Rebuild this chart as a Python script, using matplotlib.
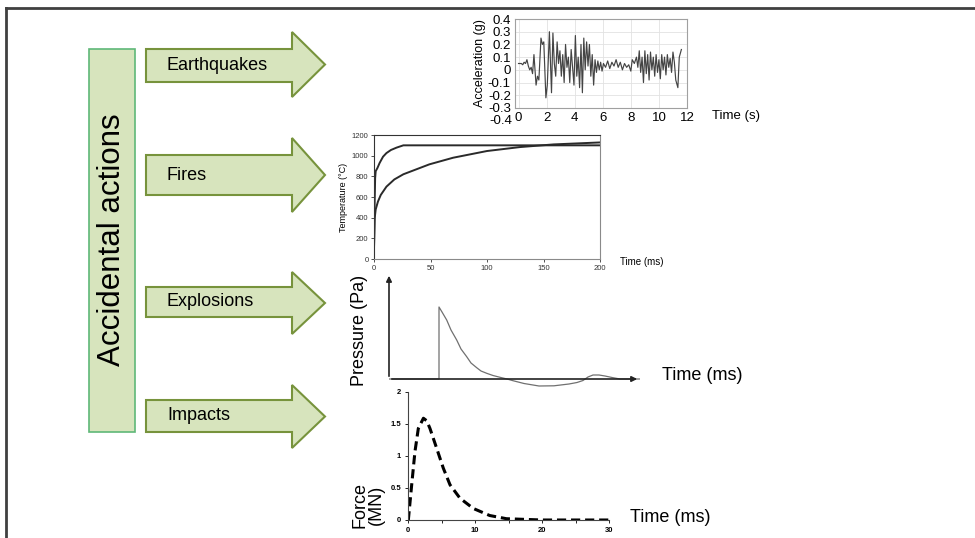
import matplotlib
matplotlib.use('Agg')
import matplotlib.pyplot as plt
from matplotlib.patches import Polygon, Rectangle

plt.rcParams['font.family'] = ['Liberation Sans', 'DejaVu Sans']

W, H = 975, 538

# earthquake record (time in s, acceleration in g)
eq_time = [0.0, 0.2, 0.3, 0.4, 0.5, 0.6, 0.7, 0.8, 0.9, 1.0, 1.1, 1.25, 1.35, 1.45,
           1.6, 1.7, 1.8, 1.95, 2.05, 2.2, 2.35, 2.45, 2.55, 2.65, 2.75, 2.85, 2.95,
           3.05, 3.15, 3.25, 3.35, 3.45, 3.55, 3.65, 3.75, 3.85, 3.95, 4.05, 4.15,
           4.25, 4.35, 4.45, 4.55, 4.65, 4.75, 4.85, 4.95, 5.05, 5.15, 5.25, 5.35,
           5.45, 5.55, 5.65, 5.75, 5.85, 5.95, 6.05, 6.2, 6.35, 6.5, 6.65, 6.8, 6.95,
           7.1, 7.25, 7.4, 7.55, 7.7, 7.85, 8.0, 8.1, 8.25, 8.4, 8.5, 8.6, 8.7, 8.8,
           8.9, 9.0, 9.1, 9.2, 9.3, 9.4, 9.5, 9.6, 9.7, 9.8, 9.9, 10.0, 10.1, 10.2,
           10.3, 10.4, 10.5, 10.6, 10.7, 10.8, 10.9, 11.0, 11.1, 11.2, 11.35, 11.45, 11.6]
eq_acc = [0.05, 0.05, 0.04, 0.06, 0.05, 0.08, 0.03, 0.00, 0.02, -0.03, 0.12, -0.12, -0.05, -0.08,
          0.25, 0.20, 0.22, -0.22, -0.12, 0.30, -0.18, 0.29, 0.05, -0.05, 0.22, 0.05, 0.15,
          -0.05, 0.12, -0.10, 0.20, 0.02, 0.10, -0.10, 0.16, 0.02, -0.12, 0.27, -0.05,
          0.10, -0.14, 0.20, -0.18, 0.25, 0.00, 0.22, 0.03, 0.20, -0.05, 0.12, -0.12,
          0.08, -0.02, 0.07, 0.00, 0.06, -0.01, 0.05, 0.02, 0.07, 0.01, 0.06, 0.03, 0.08,
          0.02, 0.06, 0.00, 0.05, 0.02, 0.04, -0.01, 0.08, 0.05, 0.10, 0.02, 0.15, -0.02, 0.10,
          -0.10, 0.15, -0.03, 0.12, -0.08, 0.14, 0.00, 0.10, -0.05, 0.12, -0.02, 0.08, -0.07, 0.12,
          0.00, 0.10, -0.04, 0.12, 0.02, 0.09, -0.02, 0.14, 0.06, -0.08, -0.14, 0.10, 0.16]
eq_yticks = [0.4, 0.3, 0.2, 0.1, 0, -0.1, -0.2, -0.3]
eq_xticks = [0, 2, 4, 6, 8, 10, 12]

# fire curves (time, temperature)
fire_fast_t = [0, 0.5, 1, 1.5, 3, 5, 8, 11, 15, 20, 26, 50, 100, 150, 200]
fire_fast_T = [100, 500, 780, 850, 880, 930, 990, 1025, 1055, 1078, 1100, 1100, 1100, 1100, 1100]
fire_slow_t = [0, 0.3, 0.6, 1.5, 3.5, 6, 11, 18, 26, 49, 70, 100, 129, 159, 200]
fire_slow_T = [100, 250, 395, 480, 556, 620, 700, 770, 820, 916, 980, 1045, 1083, 1109, 1128]
fire_xticks = [0, 50, 100, 150, 200]
fire_yticks = [0, 200, 400, 600, 800, 1000, 1200]

# explosion pressure pulse (arbitrary units)
blast_t = [0, 50, 50, 53, 57.7, 62, 67.7, 72, 77.7, 82, 87.7, 92, 97.7, 104, 111, 118, 124,
           135, 150, 165, 180, 188, 194, 199, 204, 210, 216, 223, 231, 251]
blast_p = [0, 0, 72, 67, 59, 49, 39, 30, 22.3, 16, 11.3, 8, 5.7, 3.5, 1.7, 0, -1.7,
           -4.5, -7, -6.8, -5, -3.5, -1.5, 2, 4, 4, 3, 1.5, 0, 0]

# impact force
imp_t = [0, 0.05, 0.55, 1.04, 1.54, 2.3, 2.8, 3.28, 4.28, 5.27, 6.27, 7.76, 9.75, 12.2, 14.7, 20, 30]
imp_F = [0, 0.0, 0.55, 1.07, 1.43, 1.59, 1.55, 1.43, 1.12, 0.81, 0.55, 0.34, 0.18, 0.07, 0.02, 0.0, 0.0]
imp_xticks = [0, 10, 20, 30]
imp_yticks = [0, 0.5, 1, 1.5, 2]

actions = ['Earthquakes', 'Fires', 'Explosions', 'Impacts']
# arrow geometry in pixels: body top, body bottom, head top, head bottom
arrow_rows = [(49, 82, 32, 97), (155, 195, 138, 212), (287, 317, 272, 334), (400, 432, 385, 448)]


def px_axes(x0, y0, x1, y1):
    return fig.add_axes([x0 / W, 1 - y1 / H, (x1 - x0) / W, (y1 - y0) / H])


fig = plt.figure(figsize=(W / 100, H / 100), dpi=100)

# overlay for the diagram part
bg = fig.add_axes([0, 0, 1, 1])
bg.set_xlim(0, W)
bg.set_ylim(H, 0)
bg.axis('off')
bg.plot([6, W], [8, 8], color='#404040', lw=2)
bg.plot([6, 6], [8, H], color='#404040', lw=2)

bg.add_patch(Rectangle((89, 49), 46, 383, facecolor='#d7e4bd', edgecolor='#5fb878', lw=1.2))
bg.text(112, 240, 'Accidental actions', rotation=90, ha='center', va='center', fontsize=22.5)

for name, (bt, bb, ht, hb) in zip(actions, arrow_rows):
    mid = (ht + hb) / 2
    pts = [(146, bt), (292, bt), (292, ht), (325, mid), (292, hb), (292, bb), (146, bb)]
    bg.add_patch(Polygon(pts, closed=True, facecolor='#d7e4bd', edgecolor='#77933c', lw=1.5))
    bg.text(167, (bt + bb) / 2, name, ha='left', va='center', fontsize=13)

# earthquake accelerogram
ax1 = px_axes(515, 19, 687, 108)
ax1.plot(eq_time, eq_acc, color='#444444', lw=0.85)
ax1.set_xlim(-0.25, 11.65)
ax1.set_ylim(-0.3, 0.4)
ax1.set_yticks(eq_yticks)
ax1.set_yticklabels([f'{v:g}' for v in eq_yticks])
ax1.set_xticks(eq_xticks)
ax1.grid(True, color='#e2e2e2', lw=0.6)
for s in ax1.spines.values():
    s.set_color('#a0a0a0')
ax1.tick_params(length=0, labelsize=9.5, pad=3)
ax1.text(-0.018, -0.4, '-0.4', transform=ax1.get_yaxis_transform(), ha='right', va='center',
         fontsize=9.5, clip_on=False)
ax1.set_ylabel('Acceleration (g)', fontsize=9, labelpad=1)
ax1.text(712, 116, 'Time (s)', transform=bg.transData, ha='left', va='center', fontsize=9.5)

# fire curves
ax2 = px_axes(374, 135, 600, 259)
ax2.plot(fire_fast_t, fire_fast_T, color='#2a2a2a', lw=1.4)
ax2.plot(fire_slow_t, fire_slow_T, color='#2a2a2a', lw=1.4)
ax2.set_xlim(0, 200)
ax2.set_ylim(0, 1200)
ax2.set_xticks(fire_xticks)
ax2.set_yticks(fire_yticks)
ax2.tick_params(labelsize=5.5, length=2, width=0.6, pad=2, colors='#333333')
for s in ax2.spines.values():
    s.set_color('#8a8a8a')
    s.set_linewidth(0.8)
ax2.spines['left'].set_color('#333333')
ax2.spines['top'].set_color('#333333')
ax2.set_ylabel('Temperature (°C)', fontsize=6.5, labelpad=3)
ax2.text(620, 262, 'Time (ms)', transform=bg.transData, ha='left', va='center', fontsize=7)

# explosion pressure
ax3 = px_axes(389, 273, 640, 392)
ax3.plot(blast_t, blast_p, color='#707070', lw=0.9)
ax3.set_xlim(0, 251)
ax3.set_ylim(-13, 106)
ax3.axis('off')
ax3.annotate('', xy=(0, 1), xytext=(0, 13 / 119), xycoords='axes fraction',
             arrowprops=dict(arrowstyle='-|>', color='#222222', lw=1.2, mutation_scale=8))
ax3.annotate('', xy=(1, 13 / 119), xytext=(0, 13 / 119), xycoords='axes fraction',
             arrowprops=dict(arrowstyle='-|>', color='#222222', lw=1.2, mutation_scale=8))
bg.text(360, 330, 'Pressure (Pa)', rotation=90, ha='center', va='center', fontsize=13)
bg.text(662, 376, 'Time (ms)', ha='left', va='center', fontsize=13)

# impact force
ax4 = px_axes(408, 392, 609, 520)
ax4.plot(imp_t, imp_F, color='black', lw=2.2, ls=(0, (3, 1.6)))
ax4.set_xlim(0, 30)
ax4.set_ylim(0, 2)
ax4.set_xticks(imp_xticks)
ax4.set_yticks(imp_yticks)
ax4.set_yticklabels([f'{v:g}' for v in imp_yticks])
ax4.set_xticks([5, 15, 25], minor=True)
ax4.tick_params(labelsize=5.5, length=2, width=0.6, pad=3)
ax4.tick_params(which='minor', length=2, width=0.6)
for lab in ax4.get_xticklabels() + ax4.get_yticklabels():
    lab.set_fontweight('bold')
ax4.spines['top'].set_visible(False)
ax4.spines['right'].set_visible(False)
ax4.spines['left'].set_color('#444444')
ax4.spines['bottom'].set_color('#444444')
bg.text(368, 505, 'Force\n(MN)', rotation=90, ha='center', va='center', fontsize=13,
        linespacing=0.95)
bg.text(630, 517, 'Time (ms)', ha='left', va='center', fontsize=13)

fig.savefig('out.png', dpi=100)
